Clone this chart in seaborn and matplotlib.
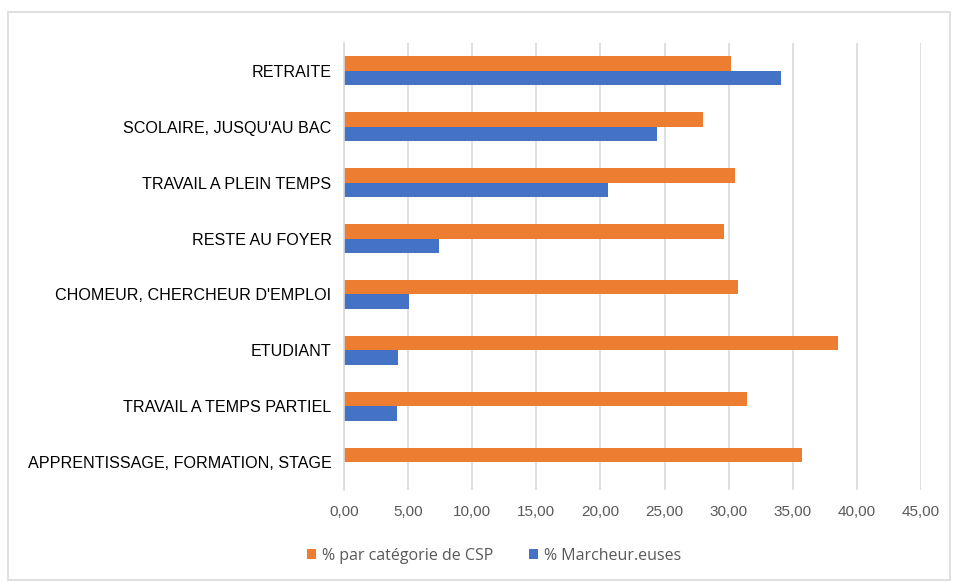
import pandas as pd
import matplotlib.pyplot as plt
import seaborn as sns
from matplotlib.patches import Rectangle

categories = [
    "RETRAITE",
    "SCOLAIRE, JUSQU'AU BAC",
    "TRAVAIL A PLEIN TEMPS",
    "RESTE AU FOYER",
    "CHOMEUR, CHERCHEUR D'EMPLOI",
    "ETUDIANT",
    "TRAVAIL A TEMPS PARTIEL",
    "APPRENTISSAGE, FORMATION, STAGE",
]
pct_csp = [30.2, 28.0, 30.5, 29.6, 30.7, 38.5, 31.4, 35.7]
pct_marcheurs = [34.1, 24.4, 20.6, 7.4, 5.1, 4.2, 4.1, 0.0]
series = ["% par catégorie de CSP", "% Marcheur.euses"]
xticks = [0, 5, 10, 15, 20, 25, 30, 35, 40, 45]

df = pd.DataFrame({
    "cat": categories * 2,
    "val": pct_csp + pct_marcheurs,
    "serie": [series[0]] * len(categories) + [series[1]] * len(categories),
})

sns.set_style("white")
plt.rcParams['font.family'] = ['Liberation Sans', 'DejaVu Sans']

fig = plt.figure(figsize=(9.55, 5.82), dpi=100)
# zone de tracé : x 344 -> 921 px, y 43 -> 490 px
ax = fig.add_axes([344 / 955, 1 - 490 / 582, 577 / 955, 447 / 582])

sns.barplot(data=df, y="cat", x="val", hue="serie", hue_order=series,
            order=categories, orient="h", palette=["#ED7D31", "#4472C4"],
            width=0.52, gap=0, saturation=1, linewidth=0, ax=ax)

ax.set_xlim(0, 45)
ax.set_xticks(xticks)
ax.set_xticklabels([f"{t:.2f}".replace(".", ",") for t in xticks],
                   fontsize=11, color="#595959")
ax.tick_params(axis="x", length=0, pad=11)
ax.tick_params(axis="y", length=0, pad=9, labelsize=11.6, labelcolor="#000000")
ax.grid(axis="x", color="#D9D9D9", linewidth=1.2)
ax.set_axisbelow(True)
for s in ["top", "right", "bottom"]:
    ax.spines[s].set_visible(False)
ax.spines["left"].set_color("#D9D9D9")
ax.spines["left"].set_linewidth(1.2)
ax.set_xlabel("")
ax.set_ylabel("")

leg = ax.legend(loc="center", bbox_to_anchor=(0.26, -0.147), ncol=2, frameon=False,
                handlelength=0.58, handleheight=0.58, handletextpad=0.37, columnspacing=2.25,
                prop={"family": ["Open Sans", "DejaVu Sans"], "size": 11.5})
for t in leg.get_texts():
    t.set_color("#595959")

fig.patches.append(Rectangle((8 / 955, 2 / 582), 942 / 955, 568 / 582, transform=fig.transFigure,
                             fill=False, edgecolor="#D9D9D9", linewidth=1.2))

plt.savefig("out.png", dpi=100)
